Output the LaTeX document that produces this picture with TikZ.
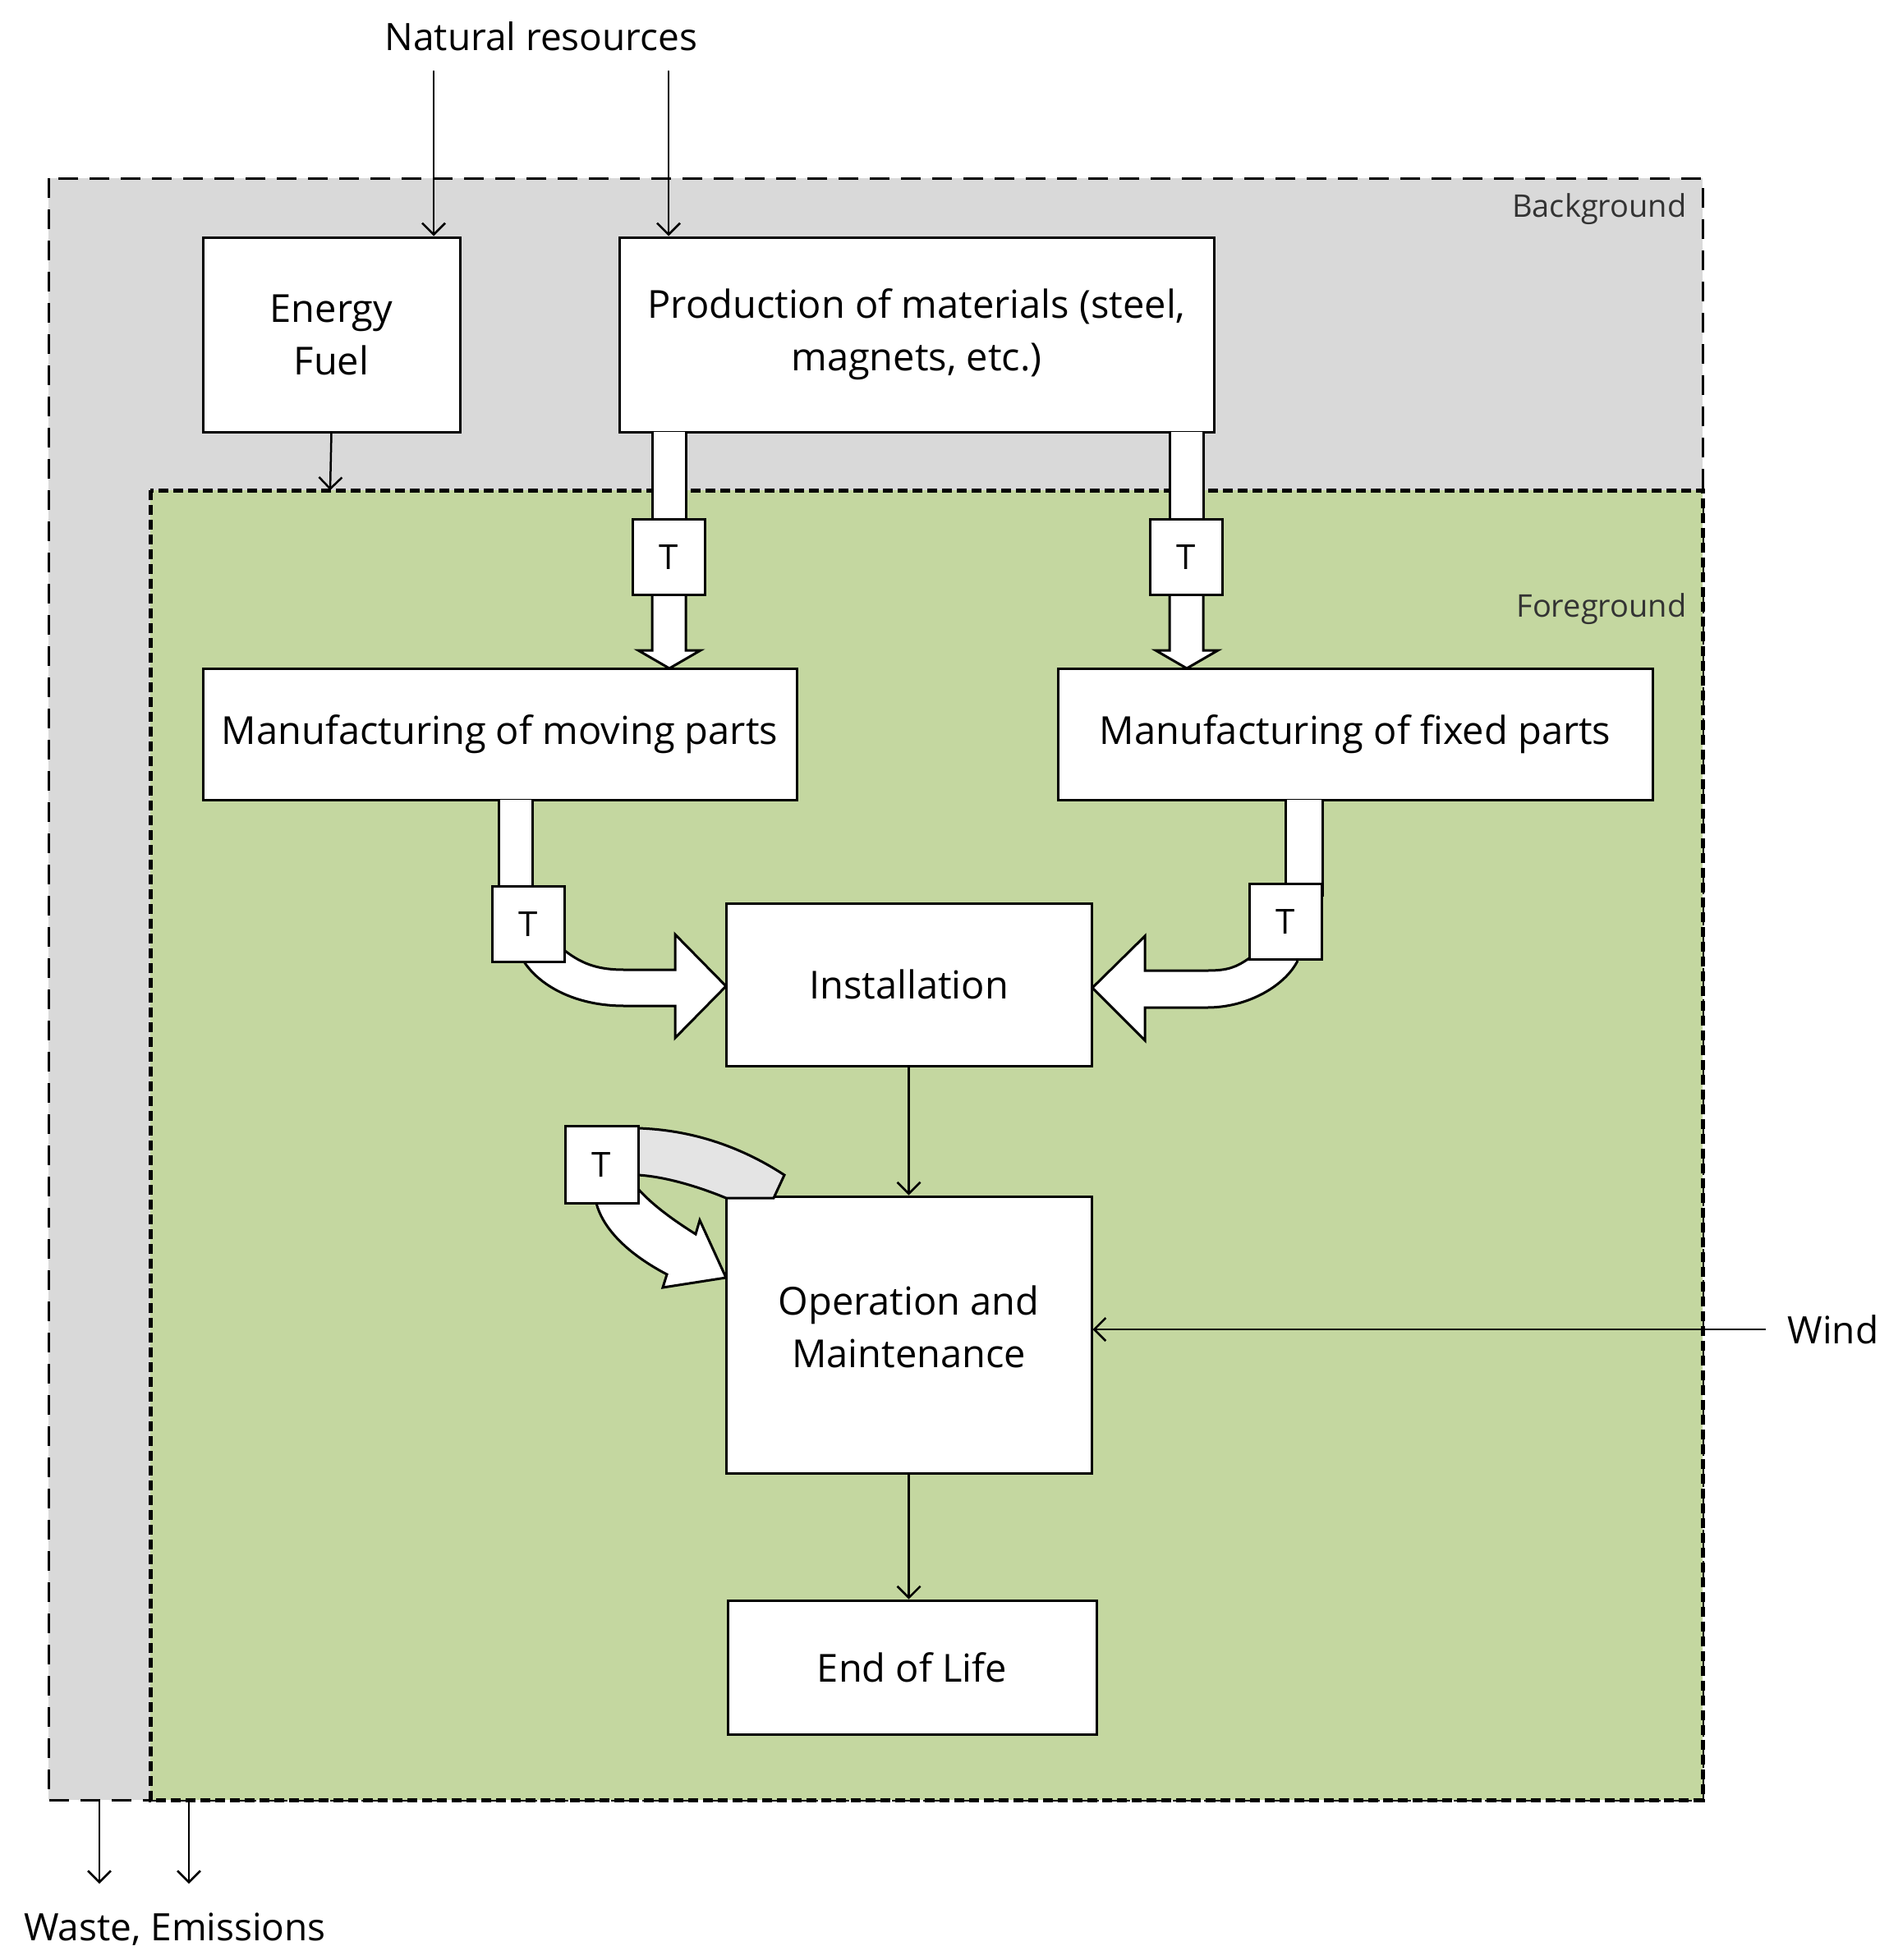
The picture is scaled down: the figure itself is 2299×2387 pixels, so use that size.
\documentclass[tikz,border=0pt]{standalone}
\usepackage{fontspec}
\setmainfont{Open Sans}
\usetikzlibrary{arrows.meta}
\definecolor{bg}{HTML}{D9D9D9}
\definecolor{fg}{HTML}{C4D7A0}
\definecolor{band}{HTML}{E4E4E4}
\begin{document}
\begin{tikzpicture}[x=1pt,y=-1pt,
  box/.style={draw,line width=3pt,fill=white,font=\fontsize{47}{64}\selectfont,align=center,inner sep=0pt},
  tbox/.style={draw,line width=3pt,fill=white,minimum width=88pt,minimum height=92pt,font=\fontsize{42}{50}\selectfont,inner sep=0pt},
  lbl/.style={font=\fontsize{46}{56}\selectfont},
  slbl/.style={font=\fontsize{38}{46}\selectfont,text=black!80},
  conn/.style={line width=2.5pt,-{Straight Barb[length=14pt,width=28pt,line width=2.5pt]}},
  blk/.style={draw,line width=3pt,fill=white,line join=miter}]
\useasboundingbox (0,0) rectangle (2299,2387);
% regions
\draw[fill=bg,line width=3pt,dash pattern=on 24pt off 14pt] (59,217) rectangle (2073,2192);
\draw[fill=fg,line width=5pt,dash pattern=on 12pt off 6pt] (183,597) rectangle (2073,2192);
\node[slbl,anchor=east] (bgl) at (2057,255) {Background};
\node[slbl,anchor=east] (fgl) at (2057,742) {Foreground};
% boxes
\node[box,minimum width=313pt,minimum height=237pt] (energy) at (403.5,407.5) {Energy\\Fuel};
\node[box,minimum width=724pt,minimum height=237pt] (prod) at (1116,407.5) {Production of materials (steel,\\magnets, etc.)};
\node[box,minimum width=723pt,minimum height=160pt] (moving) at (608.5,894) {Manufacturing of moving parts};
\node[box,minimum width=724pt,minimum height=160pt] (fixed) at (1650,894) {Manufacturing of fixed parts};
\node[box,minimum width=445pt,minimum height=198pt] (inst) at (1106.5,1199) {Installation};
\node[box,minimum width=445pt,minimum height=337pt,text depth=20pt] (om) at (1106.5,1625.5) {Operation and\\Maintenance};
\node[box,minimum width=449pt,minimum height=163pt] (eol) at (1110.5,2030.5) {End of Life};
% texts
\node[lbl] (nat) at (659,44) {Natural resources};
\node[lbl] (wind) at (2232,1619) {Wind};
\node[lbl] (waste) at (213,2350) {Waste, Emissions};
\coordinate (n1) at (528,86); \coordinate (n2) at (814,86);
\coordinate (wstart) at (2150,1619);
\coordinate (w1a) at (121,2192); \coordinate (w1b) at (121,2294);
\coordinate (w2a) at (230,2192); \coordinate (w2b) at (230,2294);
\coordinate (fgtop) at (402,597);
% thin connectors
\draw[conn] (n1) -- (n1 |- energy.north);
\draw[conn] (n2) -- (n2 |- prod.north);
\draw[conn] (energy.south) -- (fgtop);
\draw[conn] (inst.south) -- (om.north);
\draw[conn] (om.south) -- (om.south |- eol.north);
\draw[conn] (wstart) -- (wstart -| om.east);
\draw[conn] (w1a) -- (w1b);
\draw[conn] (w2a) -- (w2b);
% top block arrows
\draw[blk] (794,526) -- (794,640) -- (835,640) -- (835,526);
\draw[blk] (794,720) -- (794,792) -- (777,792) -- (815,814) -- (853,792) -- (835,792) -- (835,720);
\node[tbox] (t1) at (814,678.5) {T};
\draw[blk] (1424,526) -- (1424,640) -- (1465,640) -- (1465,526);
\draw[blk] (1424,720) -- (1424,792) -- (1407,792) -- (1445,814) -- (1483,792) -- (1465,792) -- (1465,720);
\node[tbox] (t2) at (1444.5,678.5) {T};
% lower left
\draw[blk] (607,974) -- (607,1090) -- (648,1090) -- (648,974);
\draw[blk] (688,1158) .. controls (710,1175) and (730,1181) .. (760,1181) -- (822,1181) -- (822,1138)
  -- (884,1201) -- (822,1264) -- (822,1225) -- (760,1225) .. controls (700,1225) and (655,1200) .. (636,1168);
\node[tbox] (t3) at (643,1125) {T};
% lower right
\draw[blk] (1565,974) -- (1565,1090) -- (1610,1090) -- (1610,974);
\draw[blk] (1521,1167) .. controls (1505,1178) and (1495,1182) .. (1470,1182) -- (1394,1182) -- (1394,1140)
  -- (1330,1203) -- (1394,1267) -- (1394,1227) -- (1470,1227) .. controls (1520,1227) and (1565,1200) .. (1580,1170);
\node[tbox] (t4) at (1565,1122) {T};
% O&M loop
\draw[blk,fill=band] (777,1374) .. controls (840,1376) and (900,1395) .. (955,1431) -- (942,1459) -- (884,1459)
  .. controls (850,1445) and (810,1433) .. (777,1431);
\draw[blk] (726,1465) .. controls (735,1500) and (770,1530) .. (812,1552) -- (807,1568) -- (884,1556)
  -- (852,1486) -- (847,1503) .. controls (820,1486) and (795,1468) .. (777,1448);
\node[tbox,minimum width=89pt,minimum height=94pt] (t5) at (732.5,1418) {T};
\end{tikzpicture}
\end{document}
